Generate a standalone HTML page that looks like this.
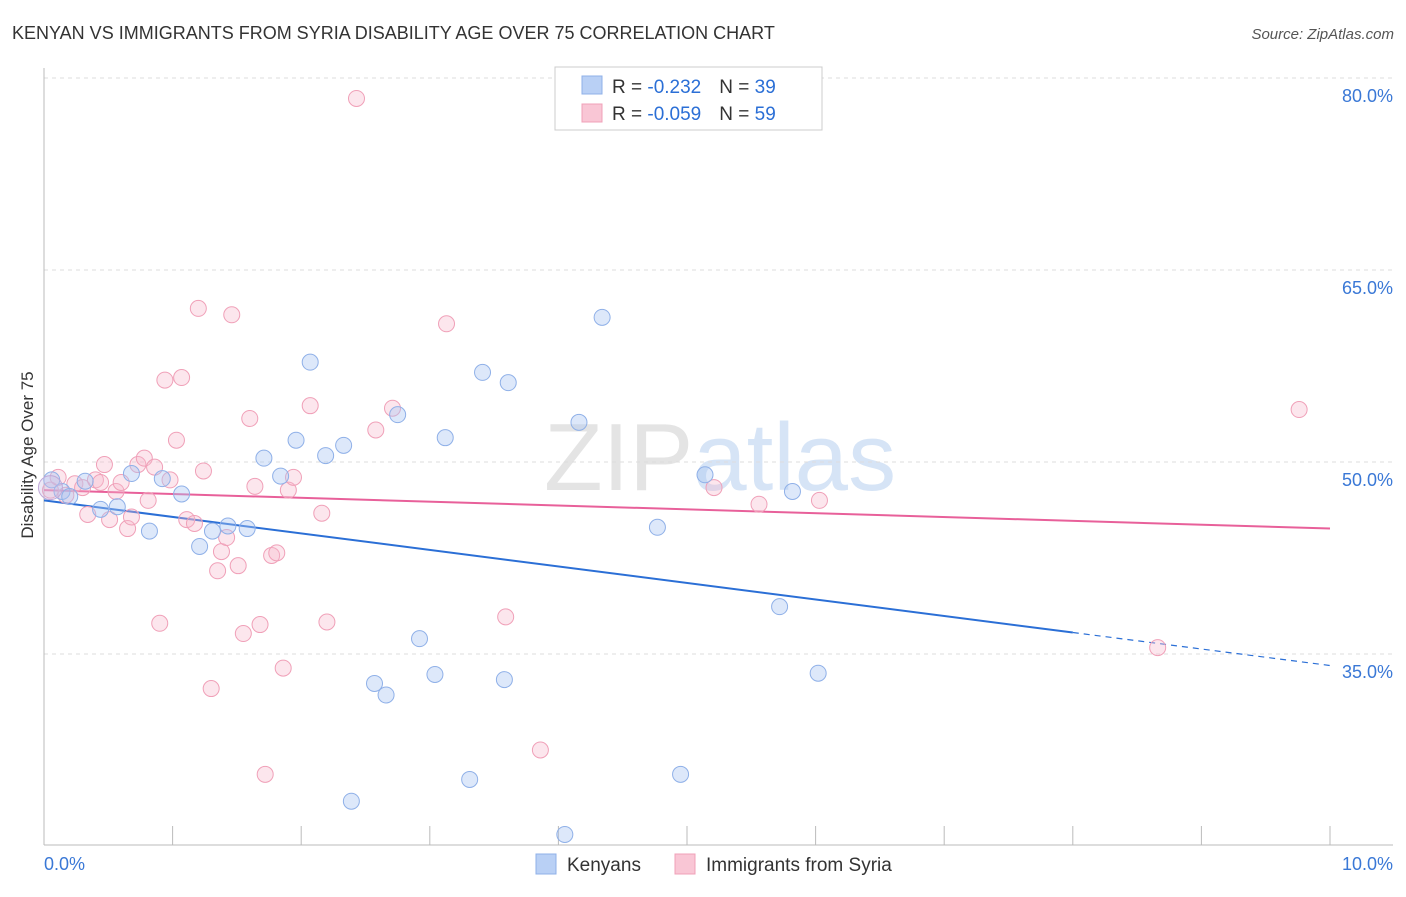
<!DOCTYPE html>
<html><head><meta charset="utf-8"><style>
body{margin:0;background:#fff;font-family:"Liberation Sans",sans-serif;}
svg text{font-family:"Liberation Sans",sans-serif;}
</style></head><body>
<svg id="chart" width="1406" height="892" xmlns="http://www.w3.org/2000/svg">
<text x="12" y="39" font-size="18" fill="#333">KENYAN VS IMMIGRANTS FROM SYRIA DISABILITY AGE OVER 75 CORRELATION CHART</text>
<text x="1394" y="39" font-size="15" fill="#555" text-anchor="end" font-style="italic">Source: ZipAtlas.com</text>
<text transform="translate(33,455) rotate(-90)" font-size="17" fill="#333" text-anchor="middle">Disability Age Over 75</text>
<text x="720" y="490" font-size="96" fill="#e4e4e4" text-anchor="middle" font-family="Liberation Serif">ZIP<tspan fill="#d6e4f6" font-family="Liberation Sans">atlas</tspan></text>
<g id="grid"></g><g id="axes"></g><g id="lines"></g><g id="points"></g>
<g>
<rect x="555" y="67" width="267" height="63" fill="#fff" stroke="#ccc"/>
<rect x="582" y="76" width="20" height="18" fill="#b9d0f5" stroke="#8fb0e8"/>
<rect x="582" y="104" width="20" height="18" fill="#f9c6d5" stroke="#f0a0b8"/>
<text x="612" y="93" font-size="19" fill="#333">R = <tspan fill="#2b6fd6">-0.232</tspan><tspan dx="18">N = </tspan><tspan fill="#2b6fd6">39</tspan></text>
<text x="612" y="120" font-size="19" fill="#333">R = <tspan fill="#2b6fd6">-0.059</tspan><tspan dx="18">N = </tspan><tspan fill="#2b6fd6">59</tspan></text>
</g>
<g>
<rect x="536" y="854" width="20" height="20" fill="#b9d0f5" stroke="#8fb0e8"/>
<text x="567" y="871" font-size="19" fill="#333">Kenyans</text>
<rect x="675" y="854" width="20" height="20" fill="#f9c6d5" stroke="#f0a0b8"/>
<text x="706" y="871" font-size="19" fill="#333">Immigrants from Syria</text>
</g>
</svg>
<script>
const yTicks=[35,50,65,80];
const xTickLabels=["0.0%","10.0%"];
const blueX=[0.06,0.14,0.20,0.32,0.44,0.57,0.68,0.82,0.92,1.07,1.21,1.31,1.43,1.58,1.71,1.84,1.96,2.07,2.19,2.33,2.39,2.57,2.66,2.75,2.92,3.04,3.12,3.31,3.41,3.58,3.61,4.05,4.16,4.34,4.77,4.95,5.14,5.72,5.82,6.02];
const blueY=[48.6,47.7,47.3,48.5,46.3,46.5,49.1,44.6,48.7,47.5,43.4,44.6,45.0,44.8,50.3,48.9,51.7,57.8,50.5,51.3,23.5,32.7,31.8,53.7,36.2,33.4,51.9,25.2,57.0,33.0,56.2,20.9,53.1,61.3,44.9,25.6,49.0,38.7,47.7,33.5];
const pinkX=[0.05,0.11,0.17,0.24,0.30,0.34,0.40,0.44,0.47,0.51,0.56,0.60,0.65,0.68,0.73,0.78,0.81,0.86,0.90,0.94,0.98,1.03,1.07,1.11,1.17,1.20,1.24,1.30,1.35,1.38,1.42,1.46,1.51,1.55,1.60,1.64,1.68,1.72,1.77,1.81,1.86,1.90,1.94,2.07,2.16,2.20,2.43,2.58,2.71,3.13,3.59,3.86,5.21,5.56,6.03,8.66,9.76];
const pinkY=[47.8,48.8,47.4,48.3,48.0,45.9,48.6,48.4,49.8,45.5,47.7,48.4,44.8,45.7,49.8,50.3,47.0,49.6,37.4,56.4,48.6,51.7,56.6,45.5,45.2,62.0,49.3,32.3,41.5,43.0,44.1,61.5,41.9,36.6,53.4,48.1,37.3,25.6,42.7,42.9,33.9,47.8,48.8,54.4,46.0,37.5,78.4,52.5,54.2,60.8,37.9,27.5,48.0,46.7,47.0,35.5,54.1];
const blueTrend=[47.0,34.1]; const blueSolidEnd=8.0;
const pinkTrend=[47.8,44.8];
const NS="http://www.w3.org/2000/svg";
const xs=v=>44+v*128.6, ys=v=>78+(80-v)*12.8;
function mk(p,t,a){const e=document.createElementNS(NS,t);for(const k in a)e.setAttribute(k,a[k]);document.getElementById(p).appendChild(e);return e;}
yTicks.forEach(t=>{const g=mk('grid','line',{x1:44,x2:1393,y1:ys(t),y2:ys(t),stroke:'#ddd','stroke-dasharray':'4,4'});


const l=mk('grid','text',{x:1393,y:ys(t)+24,'font-size':18,fill:'#3a78d6','text-anchor':'end'});l.textContent=t.toFixed(1)+'%';

});
const ax=mk('axes','line',{x1:44,x2:44,y1:68,y2:845,stroke:'#bbb'});


const bx=mk('axes','line',{x1:44,x2:1393,y1:845,y2:845,stroke:'#bbb'});


for(let i=0;i<=10;i++){const t=mk('axes','line',{x1:xs(i),x2:xs(i),y1:826,y2:845,stroke:'#bbb'});

}
[[0,'start',44],[10,'end',1393]].forEach((d,i)=>{const t=mk('axes','text',{x:d[2],y:870,'font-size':18,fill:'#3a78d6','text-anchor':d[1]});t.textContent=xTickLabels[i];

});
function pts(X,Y,fill,stroke,name){X.forEach((x,i)=>{const c=mk('points','circle',{cx:xs(x),cy:ys(Y[i]),r:8,fill:fill,stroke:stroke,'stroke-width':1});

});}
pts(pinkX,pinkY,'rgba(247,182,202,0.35)','#f0a0b8','syria-point');
pts(blueX,blueY,'rgba(170,198,242,0.4)','#8fb0e8','kenyan-point');
const big1=mk('points','circle',{cx:xs(0.05),cy:ys(48.0),r:12,fill:'rgba(200,190,230,0.35)',stroke:'#c0a8d8'});


const bv=x=>blueTrend[0]+(blueTrend[1]-blueTrend[0])*x/10, pv=x=>pinkTrend[0]+(pinkTrend[1]-pinkTrend[0])*x/10;
const l1=mk('lines','line',{x1:xs(0),y1:ys(bv(0)),x2:xs(blueSolidEnd),y2:ys(bv(blueSolidEnd)),stroke:'#2b6fd6','stroke-width':2});


const l2=mk('lines','line',{x1:xs(blueSolidEnd),y1:ys(bv(blueSolidEnd)),x2:xs(10),y2:ys(bv(10)),stroke:'#2b6fd6','stroke-width':1.2,'stroke-dasharray':'6,5'});


const l3=mk('lines','line',{x1:xs(0),y1:ys(pv(0)),x2:xs(10),y2:ys(pv(10)),stroke:'#e8609a','stroke-width':2});


</script>
</body></html>
